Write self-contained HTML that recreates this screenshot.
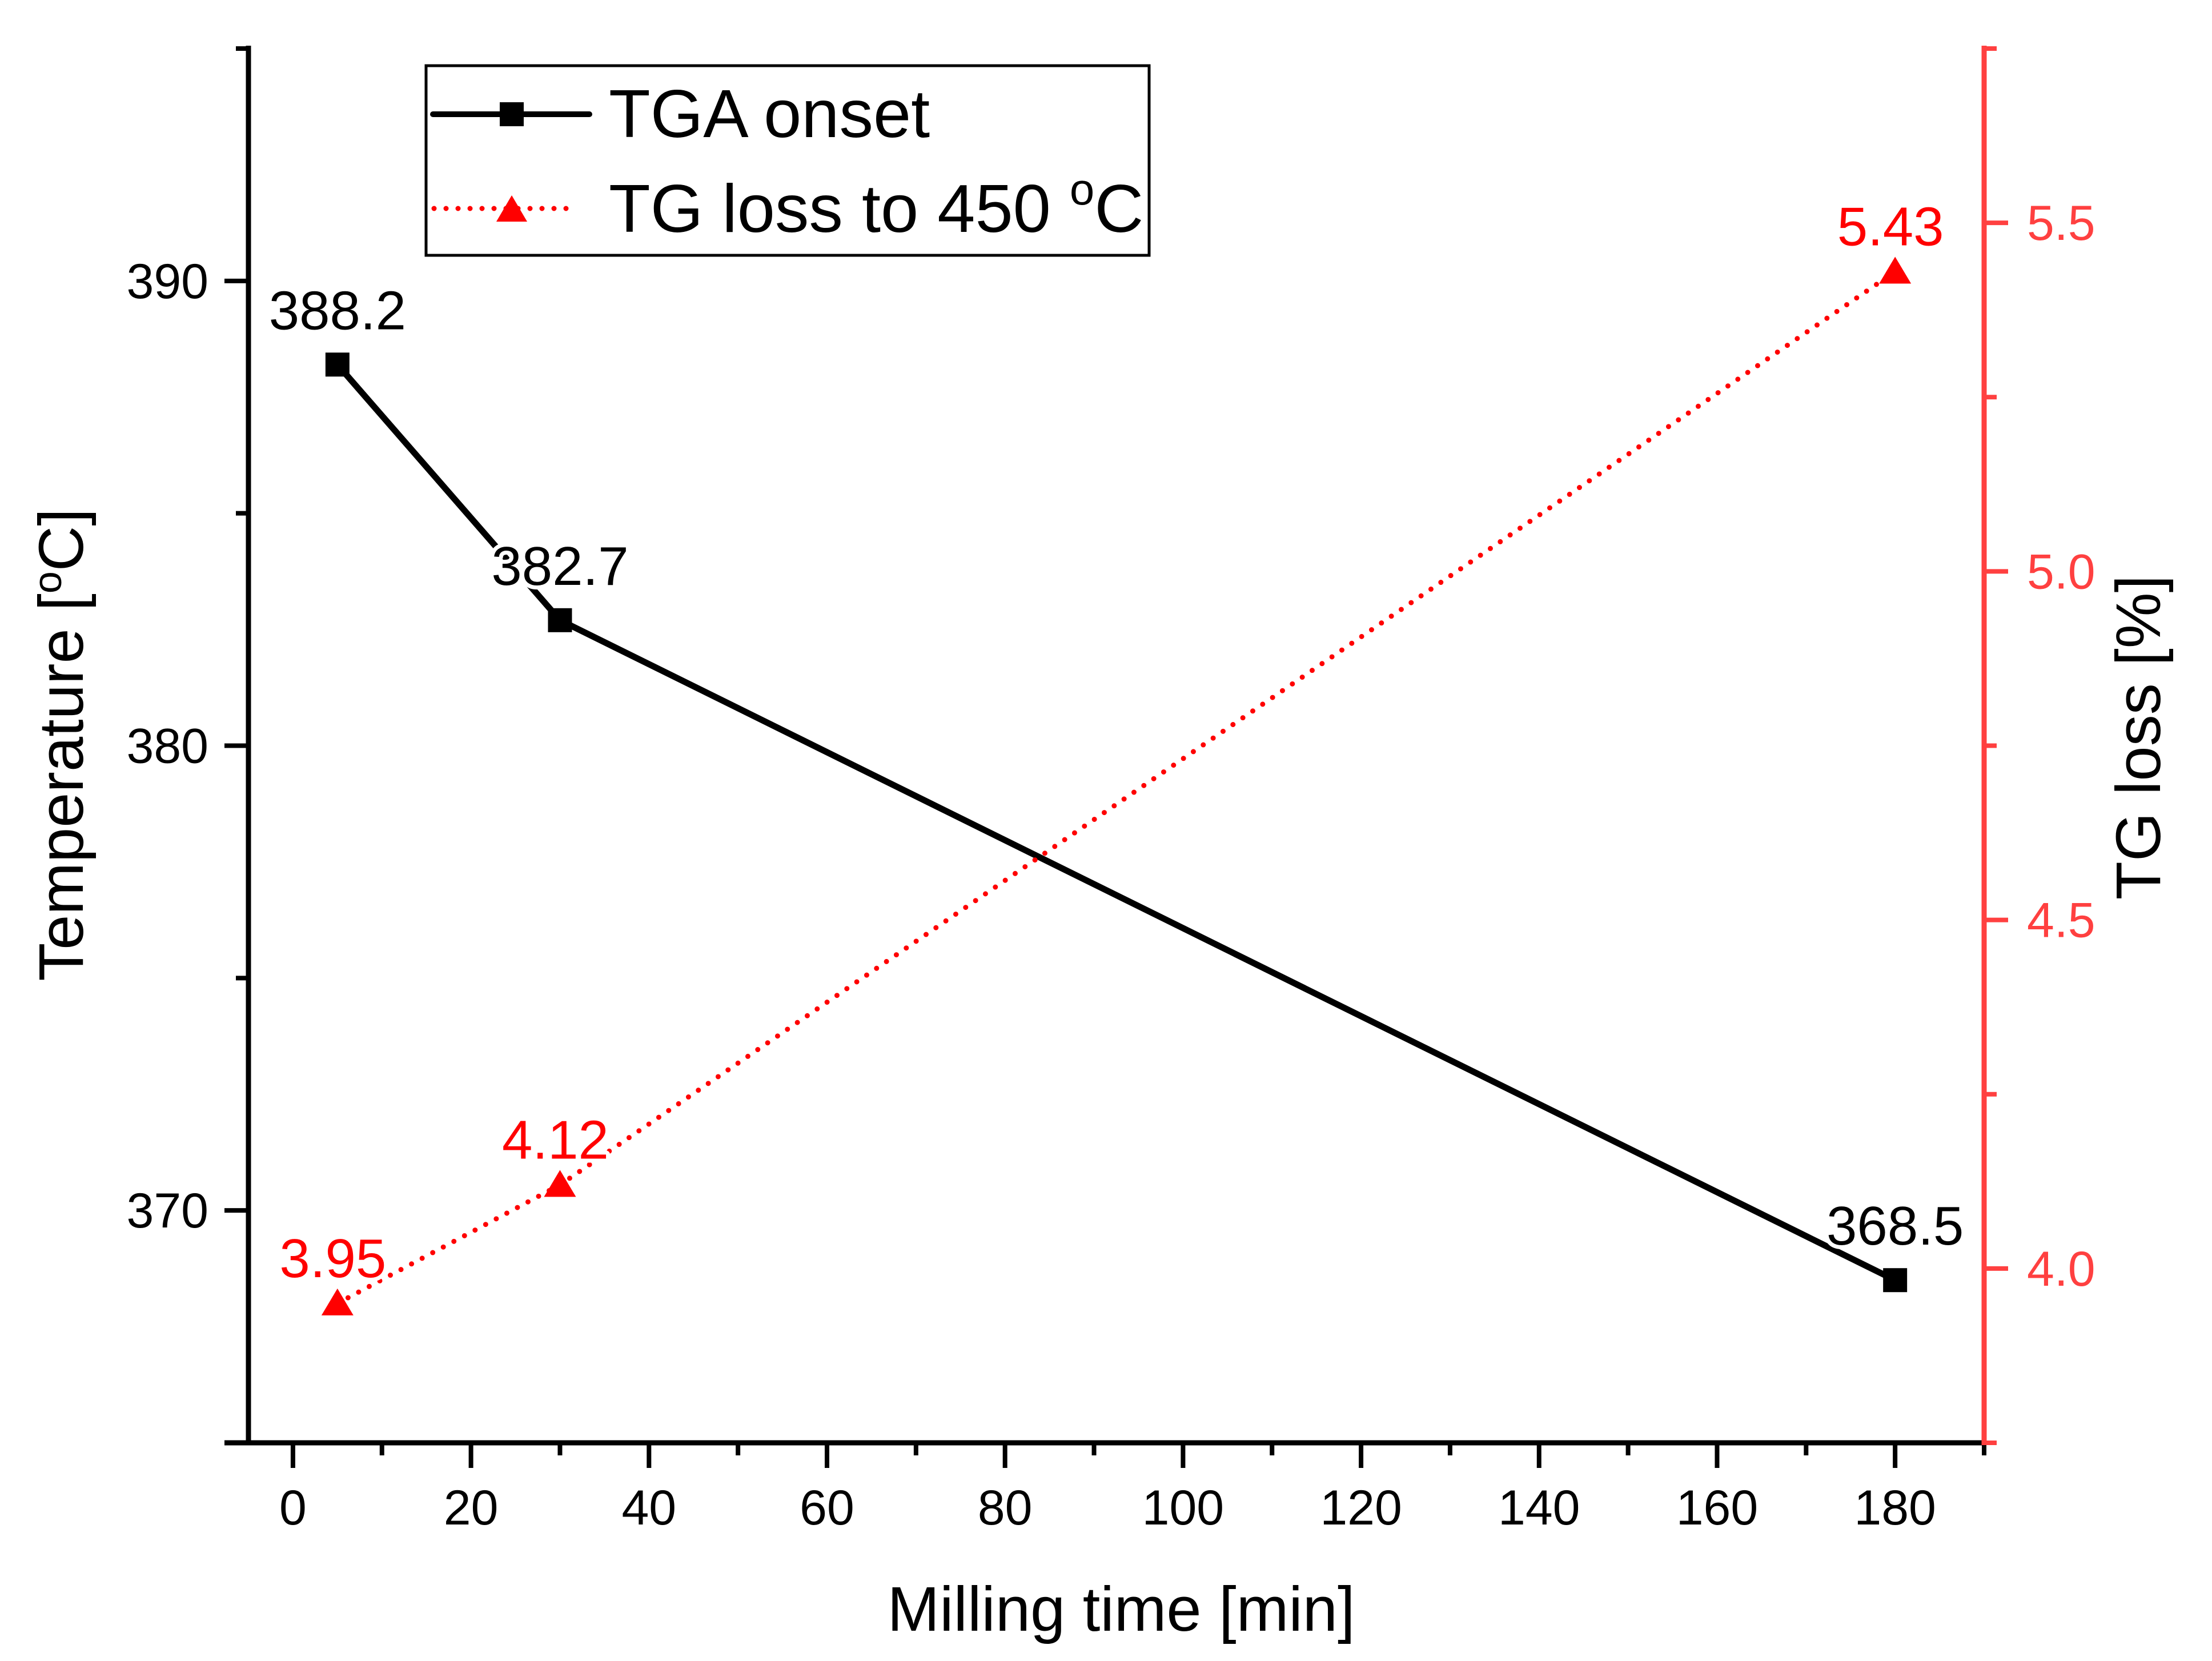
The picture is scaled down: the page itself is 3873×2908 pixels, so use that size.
<!DOCTYPE html>
<html><head><meta charset="utf-8"><style>
html,body{margin:0;padding:0;background:#fff;}
svg{display:block;font-family:"Liberation Sans",sans-serif;}
</style></head><body>
<svg id="chart" width="3873" height="2908" viewBox="0 0 3873 2908" xmlns="http://www.w3.org/2000/svg">
<rect x="0" y="0" width="3873" height="2908" fill="#fff"/>
<g id="plot"></g>
<text x="1963" y="2855" font-size="110" text-anchor="middle">Milling time [min]</text>
<text transform="translate(145,1304) rotate(-90)" font-size="110" text-anchor="middle">Temperature [<tspan font-size="70" dy="-38">o</tspan><tspan dy="38">C]</tspan></text>
<text transform="translate(3782,1291) rotate(-90)" font-size="110" text-anchor="middle">TG loss [%]</text>
<g>
<rect x="746" y="115" width="1266" height="332" fill="#fff" stroke="#000" stroke-width="5"/>
<g>
<line x1="758" y1="200" x2="1032" y2="200" stroke="#000" stroke-width="10" stroke-linecap="round"/>
<rect x="875" y="179" width="42" height="42" fill="#000"/>
<text x="1066" y="240" font-size="119">TGA onset</text>
</g>
<g>
<line x1="760" y1="365" x2="1012" y2="365" stroke="#ff0000" stroke-width="9" stroke-linecap="round" stroke-dasharray="0 21"/>
<polygon points="896,342 923,388 869,388" fill="#ff0000"/>
<text x="1066" y="406" font-size="119">TG loss to 450 <tspan font-size="78" dy="-48">o</tspan><tspan dy="48">C</tspan></text>
</g>
</g>
</svg>
<script>
const xTicks = [0, 20, 40, 60, 80, 100, 120, 140, 160, 180];
const leftTicks = [370, 380, 390];
const rightTicks = [4.0, 4.5, 5.0, 5.5];
const millingTime = [5, 30, 180];
const tgaOnset = [388.2, 382.7, 368.5];
const tgaLabels = ["388.2", "382.7", "368.5"];
const tgLoss = [3.95, 4.12, 5.43];
const tgLabels = ["3.95", "4.12", "5.43"];

const L = 435, R = 3474, T = 85, B = 2526;
const xMin = -5, xMax = 190, yMin = 365, yMax = 395, rMin = 3.75, rMax = 5.75;
const X = v => L + (v - xMin) / (xMax - xMin) * (R - L);
const Y = v => B - (v - yMin) / (yMax - yMin) * (B - T);
const YR = v => B - (v - rMin) / (rMax - rMin) * (B - T);
const NS = "http://www.w3.org/2000/svg";
const plot = document.getElementById('plot');
function mk(tag, attrs, parent) {
  const e = document.createElementNS(NS, tag);
  for (const k in attrs) e.setAttribute(k, attrs[k]);
  (parent || plot).appendChild(e);
  return e;
}
const RED = '#ff0000', AXR = '#ff4040';

for (let v = 10; v <= 190; v += 20) {
  const t = mk('line', {x1: X(v), y1: B, x2: X(v), y2: B + 22, stroke: '#000', 'stroke-width': 8});
  
  
}
xTicks.forEach(v => {
  const t = mk('line', {x1: X(v), y1: B, x2: X(v), y2: B + 44, stroke: '#000', 'stroke-width': 8});
  
  
  const s = mk('text', {x: X(v), y: B + 143, 'font-size': 86, 'text-anchor': 'middle'});
  s.textContent = v;
  
  
});
for (let v = 365; v <= 395; v += 10) {
  const t = mk('line', {x1: L, y1: Y(v), x2: L - 22, y2: Y(v), stroke: '#000', 'stroke-width': 8});
  
  
}
leftTicks.forEach(v => {
  const t = mk('line', {x1: L, y1: Y(v), x2: L - 42, y2: Y(v), stroke: '#000', 'stroke-width': 8});
  
  
  const s = mk('text', {x: 365, y: Y(v) + 30, 'font-size': 86, 'text-anchor': 'end'});
  s.textContent = v;
  
  
});
for (let v = 3.75; v <= 5.76; v += 0.5) {
  const t = mk('line', {x1: R, y1: YR(v), x2: R + 22, y2: YR(v), stroke: AXR, 'stroke-width': 8});
  
  
}
rightTicks.forEach(v => {
  const t = mk('line', {x1: R, y1: YR(v), x2: R + 42, y2: YR(v), stroke: AXR, 'stroke-width': 8});
  
  
  const s = mk('text', {x: 3549, y: YR(v) + 30, 'font-size': 86, fill: AXR});
  s.textContent = v.toFixed(1);
  
  
});
const ax1 = mk('line', {x1: L, y1: T - 5, x2: L, y2: B + 4, stroke: '#000', 'stroke-width': 9});


const ax2 = mk('line', {x1: L - 42, y1: B, x2: R, y2: B, stroke: '#000', 'stroke-width': 9});


const ax3 = mk('line', {x1: R, y1: T - 5, x2: R, y2: B + 4, stroke: AXR, 'stroke-width': 9});



const p1 = mk('polyline', {points: millingTime.map((x, i) => X(x) + ',' + Y(tgaOnset[i])).join(' '), fill: 'none', stroke: '#000', 'stroke-width': 11});


const p2 = mk('polyline', {points: millingTime.map((x, i) => X(x) + ',' + YR(tgLoss[i])).join(' '), fill: 'none', stroke: RED, 'stroke-width': 9, 'stroke-linecap': 'round', 'stroke-dasharray': '0 21'});



millingTime.forEach((x, i) => {
  const cx = X(x), cy = Y(tgaOnset[i]);
  const lb = mk('text', {x: cx, y: cy - 62, 'font-size': 96, 'text-anchor': 'middle', stroke: '#fff', 'stroke-width': 14, 'paint-order': 'stroke', 'stroke-linejoin': 'round'});
  lb.textContent = tgaLabels[i];
  
  
  const m = mk('rect', {x: cx - 21, y: cy - 21, width: 42, height: 42, fill: '#000'});
  
  
});
millingTime.forEach((x, i) => {
  const cx = X(x), cy = YR(tgLoss[i]);
  const lb = mk('text', {x: cx - 8, y: cy - 46, 'font-size': 96, 'text-anchor': 'middle', fill: RED, stroke: '#fff', 'stroke-width': 14, 'paint-order': 'stroke', 'stroke-linejoin': 'round'});
  lb.textContent = tgLabels[i];
  
  
  const m = mk('polygon', {points: `${cx},${cy - 26} ${cx + 28},${cy + 21} ${cx - 28},${cy + 21}`, fill: RED});
  
  
});
</script>
</body></html>
